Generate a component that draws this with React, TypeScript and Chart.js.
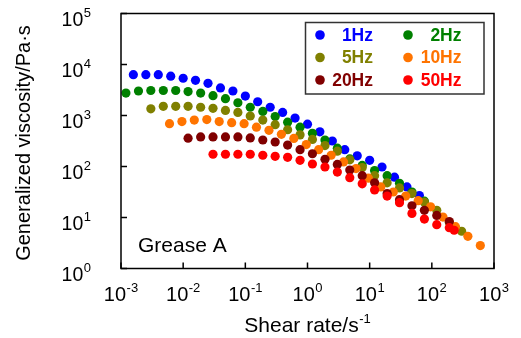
import React, { useEffect, useRef } from "react";
import { Chart, registerables } from "chart.js";

Chart.register(...registerables);

const FONT = '"Liberation Sans", Arial, Helvetica, sans-serif';

// ---- data (shear rate in 1/s, generalized viscosity in Pa·s) ----
const seriesNames = ["1Hz", "2Hz", "5Hz", "10Hz", "20Hz", "50Hz"];
const seriesColors = ["#0000FF", "#008000", "#808000", "#FF7400", "#800000", "#FF0000"];

const rate1Hz = [0.00158, 0.00251, 0.00398, 0.00631, 0.01, 0.0158, 0.0251, 0.0398, 0.0631, 0.1, 0.158, 0.251, 0.398, 0.631, 1.0, 1.58, 2.51, 3.98, 6.31, 10.0, 15.8, 25.1, 39.8, 63.1];
const visc1Hz = [6310, 6310, 6310, 5890, 5370, 4900, 4270, 3470, 3020, 2400, 1860, 1450, 1150, 891, 676, 479, 316, 214, 162, 132, 97.7, 61.7, 39.8, 26.9];

const rate2Hz = [0.0012, 0.00191, 0.00302, 0.00479, 0.00759, 0.012, 0.0191, 0.0302, 0.0479, 0.0759, 0.12, 0.191, 0.302, 0.479, 0.759, 1.2, 1.91, 3.02, 4.79, 7.59, 12.0, 19.1, 30.2, 47.9, 75.9];
const visc2Hz = [2750, 3020, 3090, 3090, 3090, 2950, 2750, 2450, 2140, 1780, 1450, 1200, 955, 741, 589, 447, 331, 229, 141, 105, 83.2, 66.1, 46.8, 31.6, 20.9];

const rate5Hz = [0.00302, 0.00479, 0.00759, 0.012, 0.0191, 0.0302, 0.0479, 0.0759, 0.12, 0.191, 0.302, 0.479, 0.759, 1.2, 1.91, 3.02, 4.79, 7.59, 12.0, 19.1, 30.2, 47.9, 75.9, 120, 191, 302];
const visc5Hz = [1350, 1510, 1510, 1510, 1450, 1380, 1260, 1150, 977, 813, 661, 525, 417, 339, 257, 200, 135, 95.5, 66.1, 47.9, 38.0, 29.5, 20.0, 13.8, 7.94, 5.37];

const rate10Hz = [0.00603, 0.00955, 0.0151, 0.024, 0.038, 0.0603, 0.0955, 0.151, 0.24, 0.38, 0.603, 0.955, 1.51, 2.4, 3.8, 6.03, 9.55, 15.1, 24.0, 38.0, 60.3, 95.5, 151, 240, 380, 603];
const visc10Hz = [692, 759, 813, 832, 759, 724, 692, 589, 513, 427, 355, 269, 214, 166, 123, 91.2, 58.9, 39.8, 31.6, 26.3, 21.4, 16.2, 10.2, 6.61, 4.27, 2.82];

const rate20Hz = [0.012, 0.0191, 0.0302, 0.0479, 0.0759, 0.12, 0.191, 0.302, 0.479, 0.759, 1.2, 1.91, 3.02, 4.79, 7.59, 12.0, 19.1, 30.2, 47.9, 75.9, 120, 191];
const visc20Hz = [359, 380, 380, 380, 380, 363, 331, 302, 263, 214, 178, 138, 110, 85.1, 66.1, 47.9, 29.5, 22.4, 17.0, 13.8, 11.0, 8.32];

const rate50Hz = [0.0302, 0.0479, 0.0759, 0.12, 0.191, 0.302, 0.479, 0.759, 1.2, 1.91, 3.02, 4.79, 7.59, 12.0, 19.1, 30.2, 47.9, 75.9, 120, 191, 229];
const visc50Hz = [174, 174, 174, 174, 166, 158, 151, 132, 112, 97.7, 77.6, 60.3, 45.7, 34.7, 26.3, 19.5, 12.0, 9.33, 7.24, 6.31, 5.62];

const seriesRates = [rate1Hz, rate2Hz, rate5Hz, rate10Hz, rate20Hz, rate50Hz];
const seriesVisc = [visc1Hz, visc2Hz, visc5Hz, visc10Hz, visc20Hz, visc50Hz];

// ---- axes ----
const xTickValues = [0.001, 0.01, 0.1, 1, 10, 100, 1000];
const xTickExponents = ["-3", "-2", "-1", "0", "1", "2", "3"];
const yTickValues = [1, 10, 100, 1000, 10000, 100000];
const yTickExponents = ["0", "1", "2", "3", "4", "5"];
const xTitle = "Shear rate/s";
const xTitleExponent = "-1";
const yTitle = "Generalized viscosity/Pa\u00B7s";
const sampleLabel = "Grease A";

function drawPower(ctx: CanvasRenderingContext2D, base: string, exp: string, x: number, baseline: number, align: "center" | "right", size: number, supSize: number) {
  ctx.font = `${size}px ${FONT}`;
  const w1 = ctx.measureText(base).width;
  ctx.font = `${supSize}px ${FONT}`;
  const w2 = ctx.measureText(exp).width;
  const total = w1 + w2 + 0.5;
  const start = align === "center" ? x - total / 2 : x - total;
  ctx.textAlign = "left";
  ctx.textBaseline = "alphabetic";
  ctx.font = `${size}px ${FONT}`;
  ctx.fillText(base, start, baseline);
  ctx.font = `${supSize}px ${FONT}`;
  ctx.fillText(exp, start + w1 + 0.5, baseline - 9);
}

const decorPlugin = {
  id: "decor",
  afterDatasetsDraw(chart: any) {
    const { ctx, chartArea: ca, scales } = chart;
    const xs = scales.x;
    const ys = scales.y;
    ctx.save();
    ctx.strokeStyle = "#000";
    ctx.fillStyle = "#000";
    ctx.lineWidth = 1.5;
    ctx.strokeRect(ca.left, ca.top, ca.right - ca.left, ca.bottom - ca.top);
    ctx.beginPath();
    xTickValues.forEach((v) => {
      const px = xs.getPixelForValue(v);
      ctx.moveTo(px, ca.bottom);
      ctx.lineTo(px, ca.bottom - 6);
    });
    yTickValues.forEach((v) => {
      const py = ys.getPixelForValue(v);
      ctx.moveTo(ca.left, py);
      ctx.lineTo(ca.left + 6, py);
    });
    ctx.stroke();

    xTickValues.forEach((v, i) => {
      drawPower(ctx, "10", xTickExponents[i], xs.getPixelForValue(v), 301, "center", 20, 13);
    });
    yTickValues.forEach((v, i) => {
      drawPower(ctx, "10", yTickExponents[i], 91, ys.getPixelForValue(v) + 12.5, "right", 19.5, 13);
    });

    drawPower(ctx, xTitle, xTitleExponent, (ca.left + ca.right) / 2, 332, "center", 21, 13);

    ctx.save();
    ctx.translate(29.5, (ca.top + ca.bottom) / 2 + 2);
    ctx.rotate(-Math.PI / 2);
    ctx.font = `20px ${FONT}`;
    ctx.textAlign = "center";
    ctx.textBaseline = "alphabetic";
    ctx.fillText(yTitle, 0, 0);
    ctx.restore();

    ctx.font = `21px ${FONT}`;
    ctx.textAlign = "left";
    ctx.fillText(sampleLabel, 138, 252);

    // legend
    ctx.lineWidth = 1.5;
    ctx.strokeStyle = "#333";
    ctx.strokeRect(305.5, 22.5, 178.5, 71.5);
    const rowY = [35, 57.5, 80];
    const dotX = [320, 408];
    const textRight = [373, 461.5];
    ctx.font = `bold 17.5px ${FONT}`;
    ctx.textAlign = "right";
    ctx.textBaseline = "middle";
    seriesNames.forEach((name, i) => {
      const col = i % 2;
      const row = Math.floor(i / 2);
      ctx.fillStyle = seriesColors[i];
      ctx.beginPath();
      ctx.arc(dotX[col], rowY[row], 4.8, 0, Math.PI * 2);
      ctx.fill();
      ctx.fillText(name, textRight[col], rowY[row] + 1);
    });
    ctx.restore();
  },
};

export default function App() {
  const ref = useRef<HTMLCanvasElement>(null);
  useEffect(() => {
    const datasets = seriesNames.map((name, i) => ({
      label: name,
      data: seriesRates[i].map((r, j) => ({ x: r, y: seriesVisc[i][j] })),
      backgroundColor: seriesColors[i],
      borderColor: seriesColors[i],
      pointRadius: 4.6,
      pointBorderWidth: 0,
      pointHoverRadius: 4.6,
      showLine: false,
      order: seriesNames.length - i,
    }));
    const chart = new Chart(ref.current as HTMLCanvasElement, {
      type: "scatter",
      data: { datasets },
      options: {
        animation: false,
        responsive: false,
        devicePixelRatio: 1,
        events: [],
        layout: { padding: { top: 13.5, right: 27, left: 0, bottom: 0 } },
        plugins: { legend: { display: false }, tooltip: { enabled: false } },
        scales: {
          x: {
            type: "logarithmic",
            min: 0.001,
            max: 1000,
            grid: { display: false },
            border: { display: false },
            ticks: { display: false },
            afterFit: (s: any) => {
              s.height = 69.5;
            },
          },
          y: {
            type: "logarithmic",
            min: 1,
            max: 100000,
            grid: { display: false },
            border: { display: false },
            ticks: { display: false },
            afterFit: (s: any) => {
              s.width = 121;
            },
          },
        },
      } as any,
      plugins: [decorPlugin],
    });
    return () => chart.destroy();
  }, []);
  return (
    <div style={{ position: "absolute", left: 0, top: 0, width: 521, height: 338, background: "#fff" }}>
      <canvas ref={ref} width={521} height={338} style={{ display: "block", width: 521, height: 338 }} />
    </div>
  );
}
